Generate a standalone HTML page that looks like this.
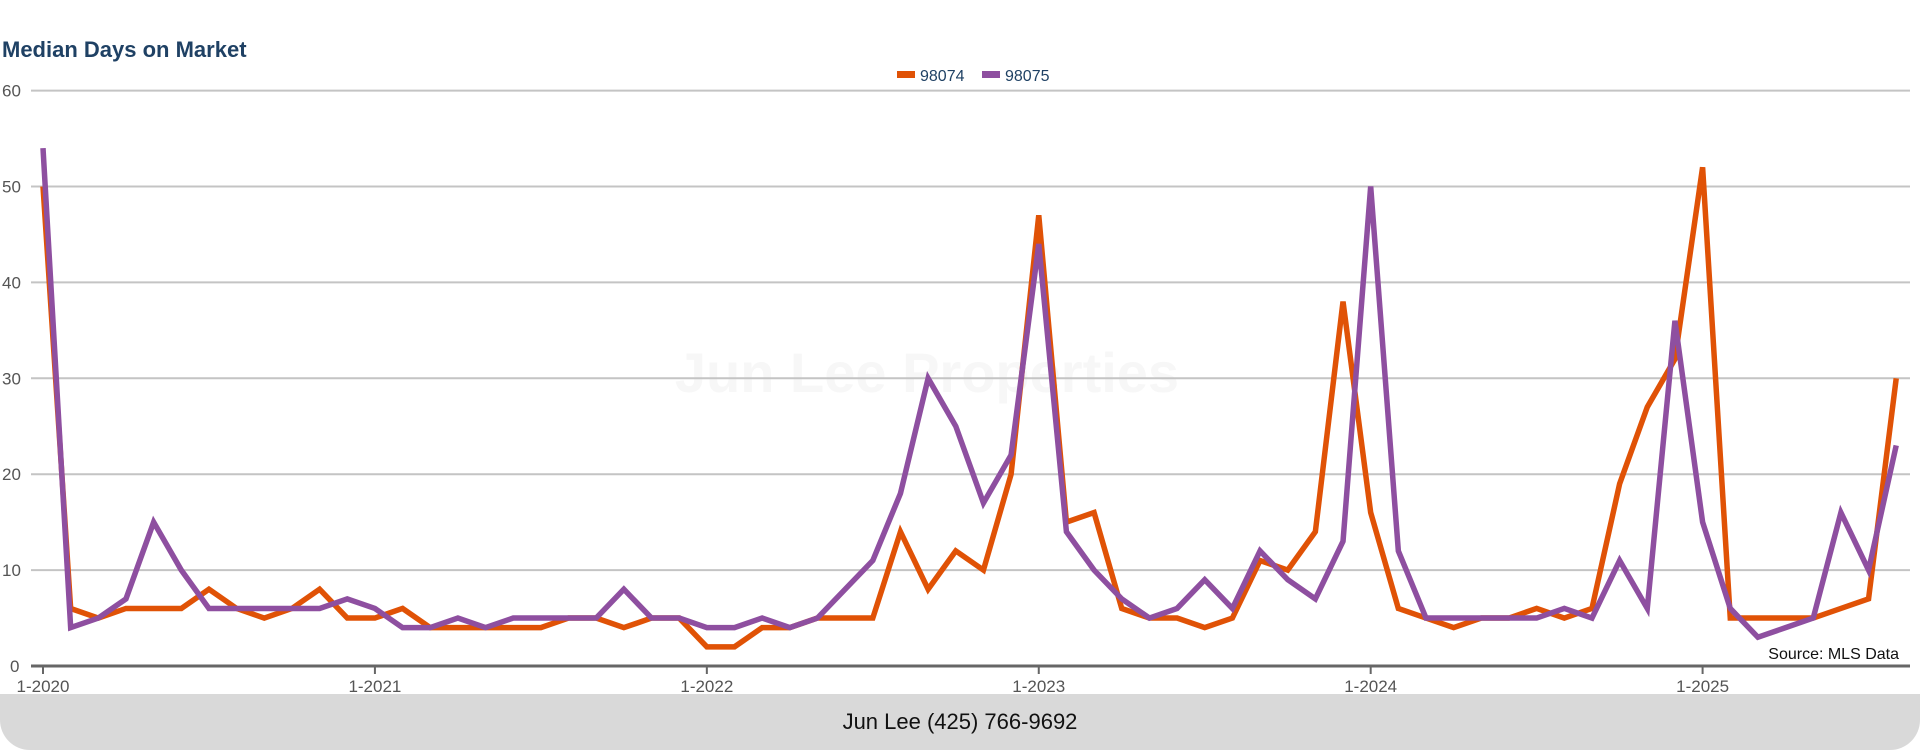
<!DOCTYPE html>
<html><head><meta charset="utf-8"><style>
body{margin:0;width:1920px;height:750px;background:#fff;overflow:hidden;font-family:"Liberation Sans",sans-serif}
#footer{position:absolute;left:0;top:694px;width:1920px;height:56px;background:#d9d9d9;border-radius:0 0 30px 30px;text-align:center;line-height:56px;font-size:22px;color:#111}
</style></head><body>
<svg id="chart" width="1920" height="750" style="position:absolute;left:0;top:0"></svg>
<div id="footer">Jun Lee (425) 766-9692</div>
<script>
const labels=["1-2020","1-2021","1-2022","1-2023","1-2024","1-2025"];
const yTicks=[0,10,20,30,40,50,60];
const s98074=[50,6,5,6,6,6,8,6,5,6,8,5,5,6,4,4,4,4,4,5,5,4,5,5,2,2,4,4,5,5,5,14,8,12,10,20,47,15,16,6,5,5,4,5,11,10,14,38,16,6,5,4,5,5,6,5,6,19,27,32,52,5,5,5,5,6,7,30];
const s98075=[54,4,5,7,15,10,6,6,6,6,6,7,6,4,4,5,4,5,5,5,5,8,5,5,4,4,5,4,5,8,11,18,30,25,17,22,44,14,10,7,5,6,9,6,12,9,7,13,50,12,5,5,5,5,5,6,5,11,6,36,15,6,3,4,5,16,10,23];
const NS="http://www.w3.org/2000/svg",svg=document.getElementById('chart');
const x=i=>43+i*27.66, y=v=>666-v*9.59;
function el(t,a,p){const e=document.createElementNS(NS,t);for(const k in a)e.setAttribute(k,a[k]);(p||svg).appendChild(e);return e;}
let t=el('text',{x:2,y:57,'font-size':22,'font-weight':'bold',fill:'#1f4164'});t.textContent='Median Days on Market';


let w=el('text',{x:927,y:392,'font-size':56,'font-weight':'bold','text-anchor':'middle',fill:'#f7f7f7'});w.textContent='Jun Lee Properties';


yTicks.forEach(v=>{
 const g=el('line',{x1:31,x2:1910,y1:y(v),y2:y(v),stroke:v==0?'#666':'#c4c4c4','stroke-width':v==0?3:2});
 
 
 const tx=el('text',{x:v==0?10:2,y:y(v)+6,'font-size':17,fill:'#555'});tx.textContent=v;
 
 
});
labels.forEach((l,k)=>{
 const xx=x(k*12);
 el('line',{x1:xx,x2:xx,y1:666,y2:674,stroke:'#666','stroke-width':2});
 const tx=el('text',{x:xx,y:692,'font-size':17,fill:'#555','text-anchor':'middle'});tx.textContent=l;
 
 
});
function line(d,c,n){const p=el('polyline',{points:d.map((v,i)=>x(i)+','+y(v)).join(' '),fill:'none',stroke:c,'stroke-width':5.5,'stroke-linejoin':'miter'});
 
 }
line(s98074,'#e05206','series-98074');
line(s98075,'#8e4fa0','series-98075');
[['98074','#e05206',897],['98075','#8e4fa0',982]].forEach(([n,c,lx])=>{
 const g=el('g',{});
 
 
 el('rect',{x:lx,y:71,width:18,height:7,fill:c},g);
 const tx=el('text',{x:lx+23,y:81,'font-size':16,fill:'#1f4164'},g);tx.textContent=n;
});
let s=el('text',{x:1899,y:659,'font-size':16,fill:'#111','text-anchor':'end'});s.textContent='Source: MLS Data';


</script>
</body></html>
